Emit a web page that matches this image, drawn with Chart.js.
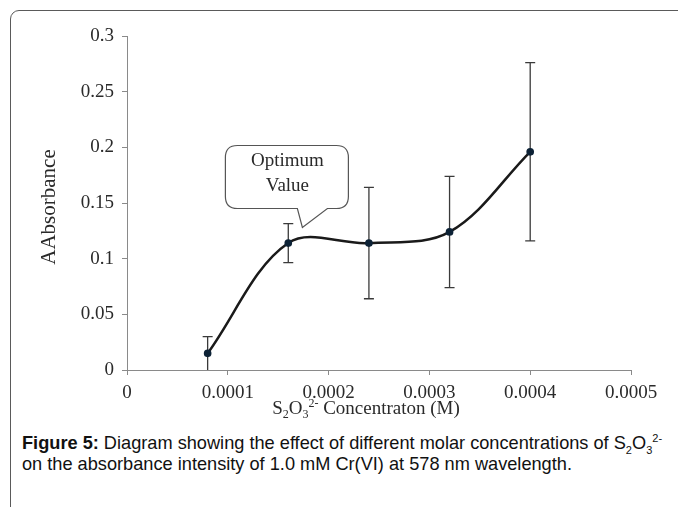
<!DOCTYPE html>
<html>
<head>
<meta charset="utf-8">
<script src="https://cdn.jsdelivr.net/npm/chart.js@4.4.0/dist/chart.umd.min.js"></script>
<style>
  html, body { margin: 0; background: #fff; }
  #page { position: relative; width: 678px; height: 507px; overflow: hidden; }
  #frame { position: absolute; left: 10px; top: 10px; width: 800px; height: 600px;
           border: 1.5px solid #5a5a5a; border-radius: 9px; }
  #wrap { position: absolute; left: 0; top: 0; width: 678px; height: 420px; }
  #caption { position: absolute; left: 22px; top: 433px; font-family: "Liberation Sans", Arial, sans-serif;
             font-size: 18.2px; line-height: 21px; color: #111; white-space: nowrap; }
  #caption sub, #caption sup { font-size: 11px; line-height: 0; }
</style>
</head>
<body>
<div id="page">
<div id="frame"></div>
<div id="wrap"><canvas id="chart"></canvas></div>
<div id="caption"><b>Figure 5:</b> Diagram showing the effect of different molar concentrations of S<sub>2</sub>O<sub>3</sub><sup>2-</sup><br>on the absorbance intensity of 1.0 mM Cr(VI) at 578 nm wavelength.</div>
</div>
<script>
// データ
const concentrations = [0.00008, 0.00016, 0.00024, 0.00032, 0.0004];
const absorbance = [0.015, 0.114, 0.114, 0.124, 0.196];
const errors = [0.015, 0.0175, 0.05, 0.05, 0.08];
const xTicks = [0, 0.0001, 0.0002, 0.0003, 0.0004, 0.0005];
const yTicks = [0, 0.05, 0.1, 0.15, 0.2, 0.25, 0.3];
const calloutAt = [0.000174, 0.128];
const calloutText = ['Optimum', 'Value'];

const serif = '"Liberation Serif", "Times New Roman", serif';

// エラーバー
const errorBars = {
    id: 'errorBars',
    beforeDatasetsDraw(chart) {
        const { ctx, scales: { x, y } } = chart;
        ctx.save();
        ctx.strokeStyle = '#3a3a3a';
        ctx.lineWidth = 1.3;
        concentrations.forEach((c, i) => {
            const px = x.getPixelForValue(c);
            const top = y.getPixelForValue(absorbance[i] + errors[i]);
            const bot = y.getPixelForValue(Math.max(0, absorbance[i] - errors[i]));
            ctx.beginPath();
            ctx.moveTo(px, top); ctx.lineTo(px, bot);
            ctx.moveTo(px - 5, top); ctx.lineTo(px + 5, top);
            if (absorbance[i] - errors[i] > 0) { ctx.moveTo(px - 5, bot); ctx.lineTo(px + 5, bot); }
            ctx.stroke();
        });
        ctx.restore();
    }
};

// 軸タイトルと吹き出し
const extras = {
    id: 'extras',
    afterDraw(chart) {
        const { ctx, scales: { x, y } } = chart;
        ctx.save();
        ctx.fillStyle = '#2a2a2a';
        // y軸タイトル
        ctx.font = '21px ' + serif;
        ctx.textAlign = 'center';
        ctx.textBaseline = 'middle';
        ctx.translate(49, 207);
        ctx.rotate(-Math.PI / 2);
        ctx.fillText('AAbsorbance', 0, 0);
        ctx.setTransform(1, 0, 0, 1, 0, 0);

        // x軸タイトル (下付き・上付き)
        const parts = [
            ['S', 19, 0], ['2', 12, 4], ['O', 19, 0], ['3', 12, 4], ['2-', 12, -7], [' Concentraton (M)', 19, 0]
        ];
        let w = 0;
        parts.forEach(p => { ctx.font = p[1] + 'px ' + serif; w += ctx.measureText(p[0]).width; });
        let cx = 366 - w / 2;
        ctx.textAlign = 'left';
        ctx.textBaseline = 'alphabetic';
        parts.forEach(p => {
            ctx.font = p[1] + 'px ' + serif;
            ctx.fillText(p[0], cx, 414 + p[2]);
            cx += ctx.measureText(p[0]).width;
        });

        // 吹き出し
        const tx = x.getPixelForValue(calloutAt[0]);
        const ty = y.getPixelForValue(calloutAt[1]);
        const l = tx - 77, r = tx + 46, t = ty - 82, b = ty - 19, rad = 12;
        ctx.beginPath();
        ctx.moveTo(l + rad, t);
        ctx.lineTo(r - rad, t);
        ctx.quadraticCurveTo(r, t, r, t + rad);
        ctx.lineTo(r, b - rad);
        ctx.quadraticCurveTo(r, b, r - rad, b);
        ctx.lineTo(tx + 25, b);
        ctx.lineTo(tx, ty);
        ctx.lineTo(tx - 5, b);
        ctx.lineTo(l + rad, b);
        ctx.quadraticCurveTo(l, b, l, b - rad);
        ctx.lineTo(l, t + rad);
        ctx.quadraticCurveTo(l, t, l + rad, t);
        ctx.closePath();
        ctx.fillStyle = '#fff';
        ctx.fill();
        ctx.strokeStyle = '#555';
        ctx.lineWidth = 1.2;
        ctx.stroke();
        ctx.fillStyle = '#2a2a2a';
        ctx.font = '19px ' + serif;
        ctx.textAlign = 'center';
        ctx.textBaseline = 'middle';
        ctx.fillText(calloutText[0], tx - 15, ty - 66);
        ctx.fillText(calloutText[1], tx - 15, ty - 41);
        ctx.restore();
    }
};

const ctx = document.getElementById('chart').getContext('2d');
new Chart(ctx, {
    type: 'line',
    data: {
        datasets: [{
            data: concentrations.map((c, i) => ({ x: c, y: absorbance[i] })),
            borderColor: '#1a1a1a',
            borderWidth: 2.5,
            tension: 0.35,
            pointRadius: 2.6,
            pointBackgroundColor: '#0d2236',
            pointBorderColor: '#0d2236',
            fill: false
        }]
    },
    options: {
        responsive: true,
        maintainAspectRatio: false,
        animation: false,
        layout: { padding: { left: 0, right: 47, top: 36, bottom: 0 } },
        plugins: { legend: { display: false }, tooltip: { enabled: false } },
        scales: {
            x: {
                type: 'linear',
                min: 0,
                max: 0.0005,
                afterBuildTicks: s => { s.ticks = xTicks.map(v => ({ value: v })); },
                afterFit: s => { s.height = 50; },
                border: { color: '#8a8a8a', width: 1 },
                grid: { drawOnChartArea: false, color: '#8a8a8a', tickLength: 5 },
                ticks: {
                    font: { family: serif, size: 19 },
                    color: '#2a2a2a',
                    padding: 7,
                    maxRotation: 0,
                    callback: v => String(parseFloat(v.toFixed(4)))
                }
            },
            y: {
                min: 0,
                max: 0.3,
                afterBuildTicks: s => { s.ticks = yTicks.map(v => ({ value: v })); },
                afterFit: s => { s.width = 127; },
                border: { color: '#8a8a8a', width: 1 },
                grid: { drawOnChartArea: false, color: '#8a8a8a', tickLength: 5 },
                ticks: {
                    font: { family: serif, size: 19 },
                    color: '#2a2a2a',
                    padding: 8,
                    callback: v => String(parseFloat(v.toFixed(2)))
                }
            }
        }
    },
    plugins: [errorBars, extras]
});
</script>
</body>
</html>
